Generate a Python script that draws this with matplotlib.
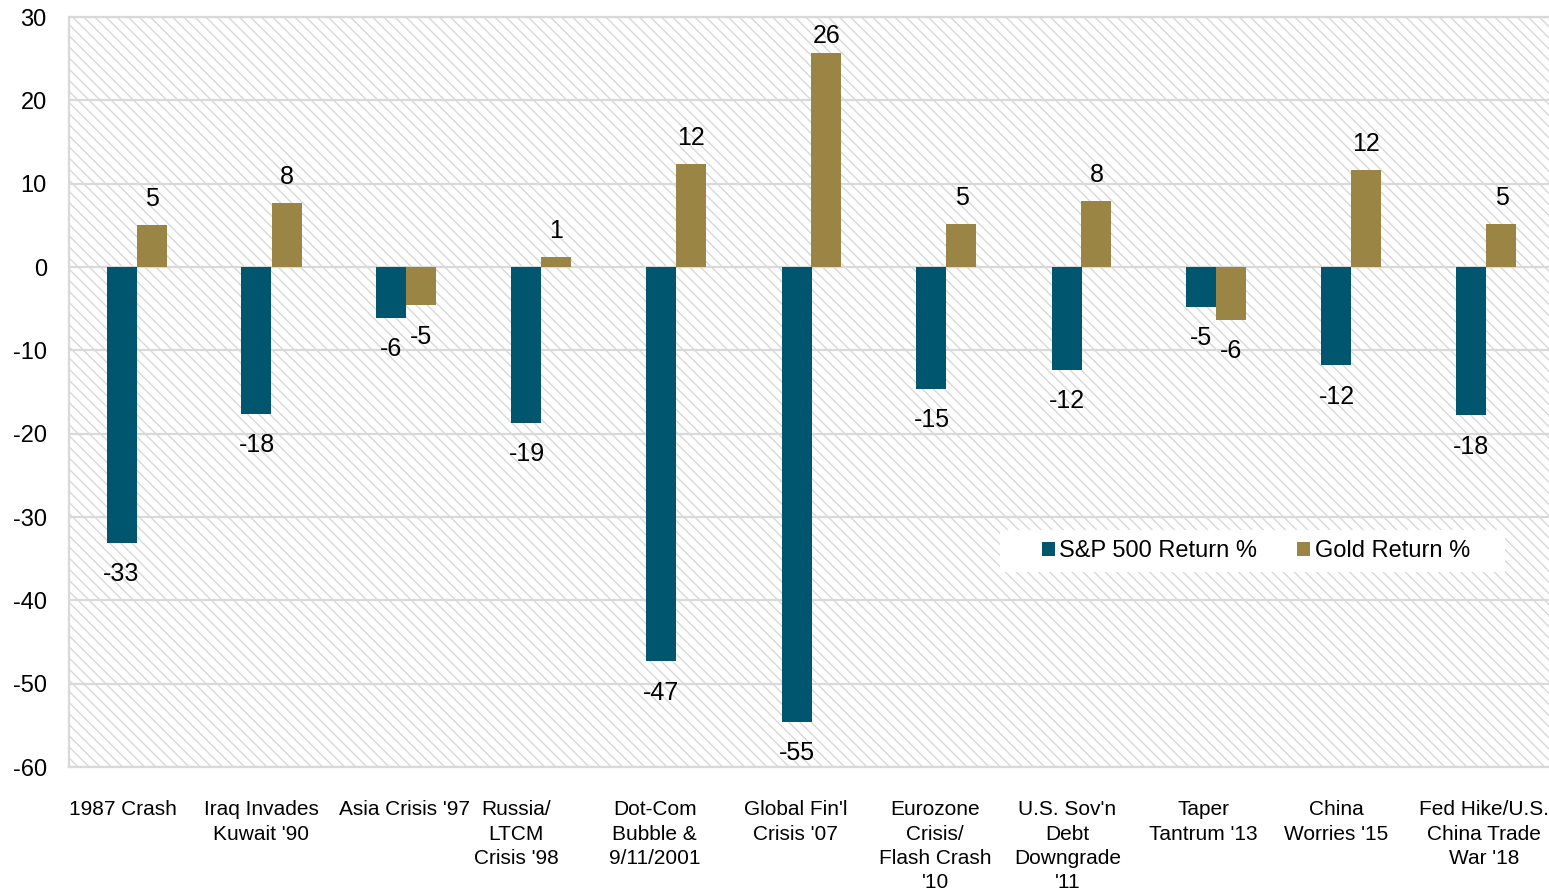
import matplotlib
matplotlib.use("Agg")
import matplotlib.pyplot as plt
from matplotlib.patches import Rectangle, Patch
import matplotlib.transforms as mtransforms
import numpy as np

plt.rcParams['font.family'] = ['Liberation Sans', 'DejaVu Sans']
plt.rcParams['hatch.color'] = '#D8D8D8'
plt.rcParams['hatch.linewidth'] = 1.0

categories = ["1987 Crash", "Iraq Invades\nKuwait '90", "Asia Crisis '97",
              "Russia/\nLTCM\nCrisis '98", "Dot-Com\nBubble &\n9/11/2001",
              "Global Fin'l\nCrisis '07", "Eurozone\nCrisis/\nFlash Crash\n'10",
              "U.S. Sov'n\nDebt\nDowngrade\n'11", "Taper\nTantrum '13",
              "China\nWorries '15", "Fed Hike/U.S.\nChina Trade\nWar '18"]
sp500 = [-33.1, -17.6, -6.1, -18.7, -47.3, -54.6, -14.6, -12.3, -4.8, -11.8, -17.8]
gold = [5.0, 7.7, -4.6, 1.2, 12.4, 25.7, 5.2, 7.9, -6.3, 11.6, 5.2]
series_names = ["S&P 500 Return %", "Gold Return %"]
colors = ["#00566E", "#9A8545"]
yticks = [30, 20, 10, 0, -10, -20, -30, -40, -50, -60]

fig = plt.figure(figsize=(15.49, 8.90), dpi=100)
ax = fig.add_axes([69/1549, 123/890, 1485/1549, 750/890])

x = np.arange(len(categories))
w = 30/135
ymin, ymax = -60, 30

# hatched background
bg = Rectangle((0, 0), 1, 1, transform=ax.transAxes, facecolor='white',
               edgecolor='#D8D8D8', linewidth=0, hatch='\\\\\\', zorder=0)
ax.add_patch(bg)

for vals, off, col in zip([sp500, gold], [-w/2, w/2], colors):
    ax.bar(x + off, vals, width=w, color=col, zorder=3)
    for xi, v in zip(x, vals):
        lab = f"{round(v):d}"
        if v >= 0:
            if v > ymax - 5:
                # keep label inside the plot area
                ax.annotate(lab, (xi + off, ymax), xytext=(0, -5), textcoords='offset points',
                            ha='center', va='top', fontsize=18, zorder=4)
            else:
                ax.annotate(lab, (xi + off, v), xytext=(0, 10), textcoords='offset points',
                            ha='center', va='bottom', fontsize=18, zorder=4)
        else:
            ax.annotate(lab, (xi + off, v), xytext=(0, -14), textcoords='offset points',
                        ha='center', va='top', fontsize=18, zorder=4)

ax.set_xlim(-0.5, len(categories) - 0.5)
ax.set_ylim(ymin, ymax)
ax.set_yticks(yticks)
ax.set_yticklabels([str(t) for t in yticks], fontsize=17)
# category labels: block left-aligned at category start, lines centered
ax.set_xticks(x - 0.5)
ax.set_xticklabels(categories, fontsize=15, va='top', ha='left',
                   multialignment='center', linespacing=1.35)
ax.set_xticks(np.arange(-0.5, len(categories), 1), minor=True)
ax.tick_params(axis='both', which='both', length=0)
ax.tick_params(axis='y', pad=16)
ax.tick_params(axis='x', pad=24)
ax.grid(axis='y', which='major', color='#D9D9D9', linewidth=1.6, zorder=1)
ax.grid(axis='x', which='minor', color='#D9D9D9', linewidth=1.6, zorder=1)
ax.grid(axis='x', which='major', visible=False)
ax.set_axisbelow(True)
for s in ax.spines.values():
    s.set_color('#D9D9D9')
    s.set_linewidth(1.6)

# legend background box
fig.patches.append(Rectangle((1000/1549, 1 - 572/890), 505/1549, 42/890,
                             transform=fig.transFigure, facecolor='white',
                             edgecolor='none', zorder=4))
handles = [Patch(facecolor=c, edgecolor='none') for c in colors]
leg = fig.legend(handles, series_names, loc='center', bbox_to_anchor=(1256/1549, 1 - 551/890),
                 ncol=2, fontsize=17, frameon=False,
                 handlelength=0.55, handleheight=0.55,
                 handletextpad=0.18, columnspacing=1.7, borderpad=0.4, borderaxespad=0)
leg.set_zorder(5)

fig.savefig("out.png", dpi=100)
